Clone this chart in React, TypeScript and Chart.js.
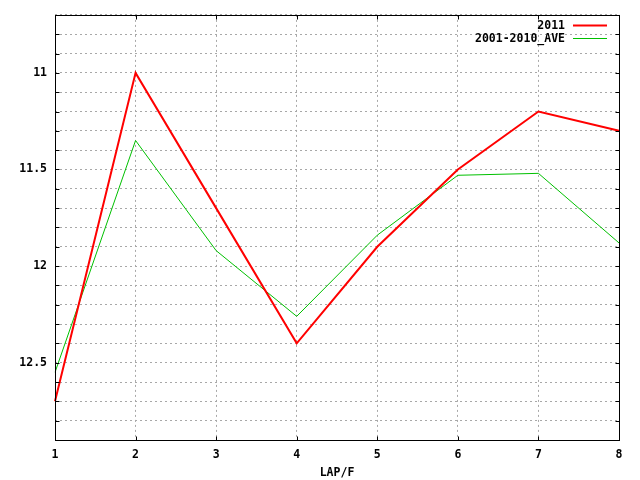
import React, { useEffect, useRef } from 'react';
import { Chart, registerables } from 'chart.js';

Chart.register(...registerables);

const laps = ['1', '2', '3', '4', '5', '6', '7', '8'];
const times2011 = [12.7, 11.0, 11.7, 12.4, 11.9, 11.5, 11.2, 11.3];
const timesAve = [12.55, 11.35, 11.92, 12.26, 11.84, 11.53, 11.52, 11.88];
const yMajorTicks = [11, 11.5, 12, 12.5];
const yMin = 10.7;
const yMax = 12.9;
const yGridStep = 0.1;

const FONT = '"DejaVu Sans Mono", monospace';

// gnuplot-like frame, inward tick marks and legend inside the plot
const framePlugin = {
  id: 'frame',
  afterDatasetsDraw: (chart) => {
    const { ctx, chartArea } = chart;
    const l = Math.round(chartArea.left) + 0.5;
    const r = Math.round(chartArea.right) + 0.5;
    const t = Math.round(chartArea.top) + 0.5;
    const b = Math.round(chartArea.bottom) + 0.5;
    ctx.save();
    ctx.strokeStyle = '#000';
    ctx.lineWidth = 1;
    ctx.strokeRect(l, t, r - l, b - t);

    ctx.beginPath();
    chart.scales.y.ticks.forEach((tk) => {
      const y = Math.round(chart.scales.y.getPixelForValue(tk.value)) + 0.5;
      ctx.moveTo(l, y);
      ctx.lineTo(l + 4, y);
      ctx.moveTo(r, y);
      ctx.lineTo(r - 4, y);
    });
    chart.scales.x.ticks.forEach((tk, i) => {
      const x = Math.round(chart.scales.x.getPixelForTick(i)) + 0.5;
      ctx.moveTo(x, b);
      ctx.lineTo(x, b - 4);
      ctx.moveTo(x, t);
      ctx.lineTo(x, t + 4);
    });
    ctx.stroke();

    // legend
    ctx.font = `bold 11.5px ${FONT}`;
    ctx.textAlign = 'right';
    ctx.textBaseline = 'middle';
    chart.data.datasets.forEach((ds: any, i) => {
      const y = Math.round(chartArea.top + 10.5 + i * 12.5) + 0.5;
      ctx.fillStyle = '#000';
      ctx.fillText(ds.label, chartArea.right - 54, y + 1);
      ctx.beginPath();
      ctx.strokeStyle = ds.borderColor;
      ctx.lineWidth = ds.borderWidth;
      ctx.moveTo(chartArea.right - 46, y);
      ctx.lineTo(chartArea.right - 12, y);
      ctx.stroke();
    });
    ctx.restore();
  },
};

const LapChart = () => {
  const chartRef = useRef<HTMLCanvasElement>(null);

  useEffect(() => {
    document.body.style.margin = '0';
    const grid = {
      color: '#a8a8a8',
      lineWidth: 1,
      drawTicks: false,
    };

    const chart = new Chart(chartRef.current, {
      type: 'line',
      data: {
        labels: laps,
        datasets: [
          {
            label: '2011',
            data: times2011,
            borderColor: '#ff0000',
            borderWidth: 2,
            pointRadius: 0,
            tension: 0,
          },
          {
            label: '2001-2010_AVE',
            data: timesAve,
            borderColor: '#00c000',
            borderWidth: 1,
            pointRadius: 0,
            tension: 0,
          },
        ],
      },
      options: {
        animation: false,
        responsive: true,
        maintainAspectRatio: false,
        layout: { padding: { top: 13, right: 21, left: 0, bottom: 0 } },
        plugins: {
          legend: { display: false },
          tooltip: { enabled: false },
        },
        scales: {
          x: {
            offset: false,
            grid: grid as any,
            border: { display: false, dash: [2, 3] },
            ticks: {
              color: '#000',
              font: { family: FONT, size: 11.5, weight: 'bold' },
              padding: 8,
              maxRotation: 0,
              autoSkip: false,
            },
            title: {
              display: true,
              text: 'LAP/F',
              color: '#000',
              font: { family: FONT, size: 11.5, weight: 'bold' },
              padding: { top: 4, bottom: 0 },
            },
            afterFit: (scale) => {
              scale.height = 40;
            },
          },
          y: {
            reverse: true,
            min: yMin,
            max: yMax,
            grid: grid as any,
            border: { display: false, dash: [2, 3] },
            afterBuildTicks: (scale) => {
              const n = Math.round((yMax - yMin) / yGridStep);
              const ticks = [];
              for (let i = 0; i <= n; i++) {
                ticks.push({ value: Math.round((yMin + i * yGridStep) * 10) / 10 });
              }
              scale.ticks = ticks;
            },
            ticks: {
              color: '#000',
              font: { family: FONT, size: 11.5, weight: 'bold' },
              padding: 8,
              autoSkip: false,
              callback: (v) => {
                const m = yMajorTicks.find((t) => Math.abs(t - Number(v)) < 1e-6);
                return m === undefined ? '' : String(m);
              },
            },
            afterFit: (scale) => {
              scale.width = 55;
            },
          },
        },
      },
      plugins: [framePlugin],
    });

    return () => chart.destroy();
  }, []);

  return (
    <div style={{ width: 640, height: 480, background: '#fff' }}>
      <canvas ref={chartRef} />
    </div>
  );
};

export default function App() {
  return <LapChart />;
}
